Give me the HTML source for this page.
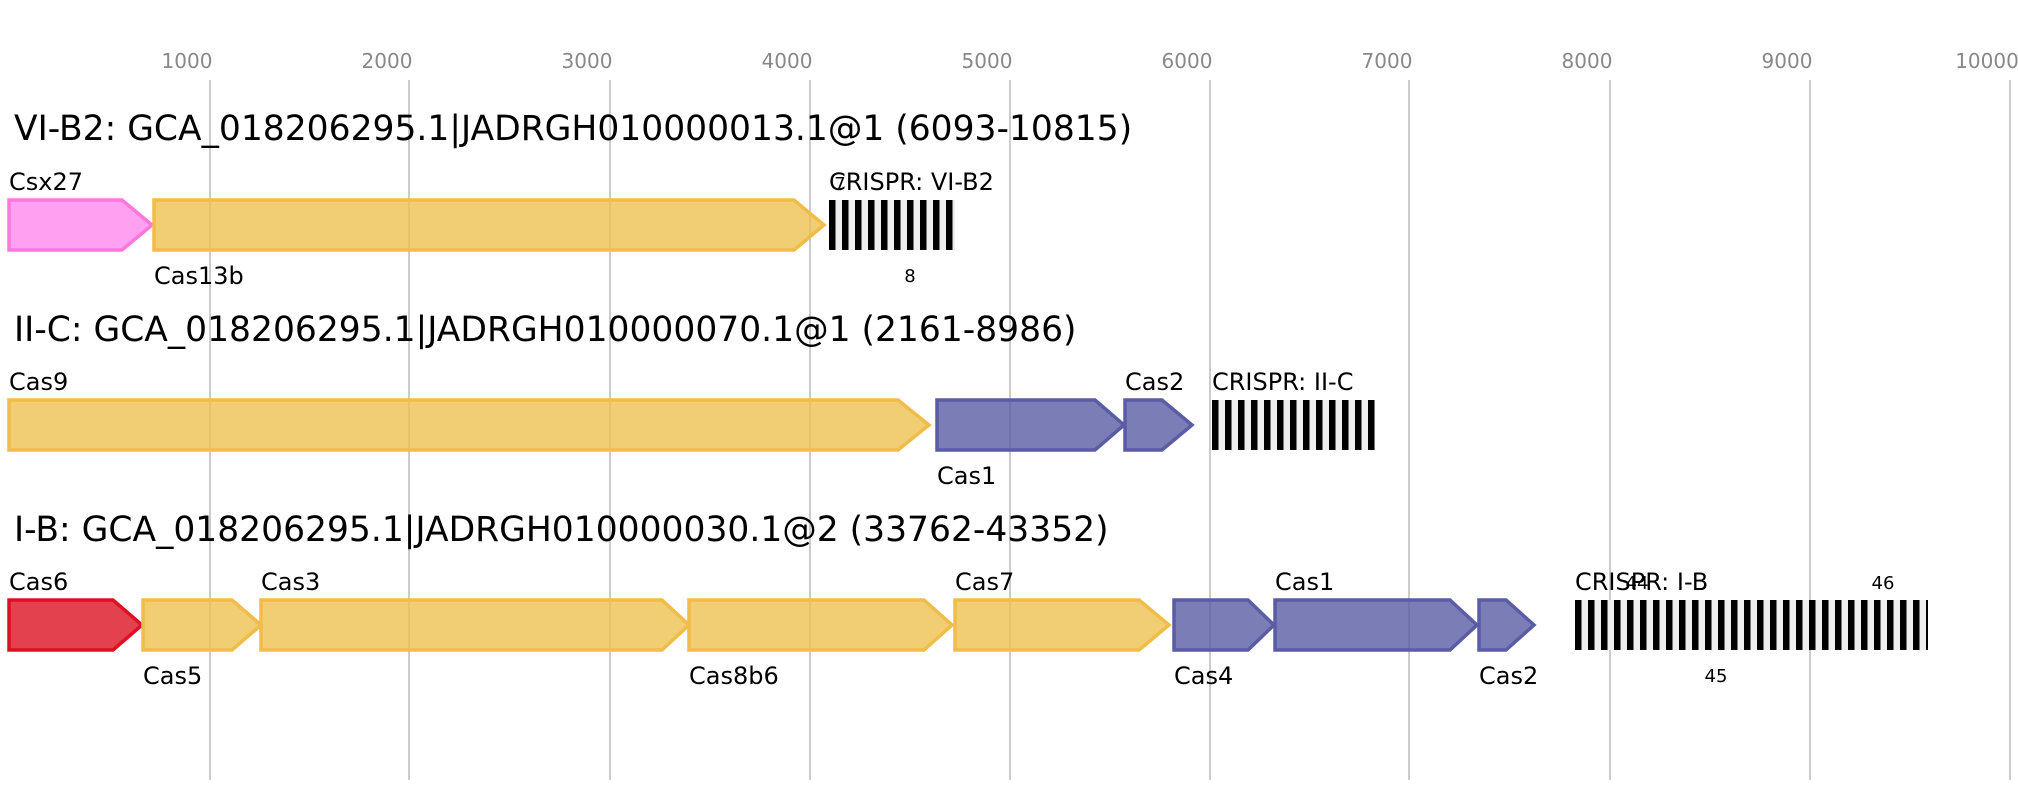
<!DOCTYPE html>
<html><head><meta charset="utf-8"><style>body{margin:0;background:#fff}svg{display:block}text{font-family:"DejaVu Sans","Liberation Sans",sans-serif}</style></head><body>
<svg width="2018" height="800" xmlns="http://www.w3.org/2000/svg">
<defs>
<pattern id="st" x="0" y="0" width="13" height="10" patternUnits="userSpaceOnUse"><rect width="13" height="10" fill="#eee"/><rect width="6.5" height="10" fill="#000"/></pattern>
<pattern id="st1" href="#st" x="829"/><pattern id="st2" href="#st" x="1212"/><pattern id="st3" href="#st" x="1575"/>
</defs>
<g stroke="#bbb" stroke-width="1.5">
<line x1="210" y1="80" x2="210" y2="780"/><line x1="409" y1="80" x2="409" y2="780"/><line x1="610" y1="80" x2="610" y2="780"/><line x1="810" y1="80" x2="810" y2="780"/><line x1="1010" y1="80" x2="1010" y2="780"/><line x1="1210" y1="80" x2="1210" y2="780"/><line x1="1409" y1="80" x2="1409" y2="780"/><line x1="1610" y1="80" x2="1610" y2="780"/><line x1="1810" y1="80" x2="1810" y2="780"/><line x1="2010" y1="80" x2="2010" y2="780"/>
</g>
<g fill="#888" font-size="20" text-anchor="middle">
<text x="187" y="68">1000</text><text x="387" y="68">2000</text><text x="587" y="68">3000</text><text x="787" y="68">4000</text><text x="987" y="68">5000</text><text x="1187" y="68">6000</text><text x="1387" y="68">7000</text><text x="1587" y="68">8000</text><text x="1787" y="68">9000</text><text x="1987" y="68">10000</text>
</g>
<g font-size="34.5" fill="#000">
<text x="14" y="140">VI-B2: GCA_018206295.1|JADRGH010000013.1@1 (6093-10815)</text>
<text x="14" y="341">II-C: GCA_018206295.1|JADRGH010000070.1@1 (2161-8986)</text>
<text x="14" y="541">I-B: GCA_018206295.1|JADRGH010000030.1@2 (33762-43352)</text>
</g>
<g stroke-width="3.5" fill-opacity="0.8">
<polygon points="9,200 122,200 152,225 122,250 9,250" fill="#ff88ee" stroke="#ff77dd"/>
<polygon points="154,200 794,200 824,225 794,250 154,250" fill="#eec050" stroke="#f0bc4a"/>
<polygon points="9,400 898,400 929,425 898,450 9,450" fill="#eec050" stroke="#f0bc4a"/>
<polygon points="937,400 1095,400 1124,425 1095,450 937,450" fill="#5a5ca5" stroke="#5a5ca5"/>
<polygon points="1125,400 1162,400 1192,425 1162,450 1125,450" fill="#5a5ca5" stroke="#5a5ca5"/>
<polygon points="9,600 113,600 142,625 113,650 9,650" fill="#dd1122" stroke="#dd1122"/>
<polygon points="143,600 232,600 261,625 232,650 143,650" fill="#eec050" stroke="#f0bc4a"/>
<polygon points="261,600 662,600 689,625 662,650 261,650" fill="#eec050" stroke="#f0bc4a"/>
<polygon points="689,600 924,600 952,625 924,650 689,650" fill="#eec050" stroke="#f0bc4a"/>
<polygon points="955,600 1139,600 1169,625 1139,650 955,650" fill="#eec050" stroke="#f0bc4a"/>
<polygon points="1174,600 1248,600 1274,625 1248,650 1174,650" fill="#5a5ca5" stroke="#5a5ca5"/>
<polygon points="1275,600 1450,600 1477,625 1450,650 1275,650" fill="#5a5ca5" stroke="#5a5ca5"/>
<polygon points="1479,600 1506,600 1534,625 1506,650 1479,650" fill="#5a5ca5" stroke="#5a5ca5"/>
</g>
<rect x="829" y="200" width="126" height="50" fill="url(#st1)"/>
<rect x="1212" y="400" width="163" height="50" fill="url(#st2)"/>
<rect x="1575" y="600" width="353" height="50" fill="url(#st3)"/>
<g font-size="24" fill="#000">
<text x="9" y="190">Csx27</text><text x="154" y="284">Cas13b</text><text x="829" y="190">CRISPR: VI-B2</text>
<text x="9" y="390">Cas9</text><text x="937" y="484">Cas1</text><text x="1125" y="390">Cas2</text><text x="1212" y="390">CRISPR: II-C</text>
<text x="9" y="590">Cas6</text><text x="143" y="684">Cas5</text><text x="261" y="590">Cas3</text><text x="689" y="684">Cas8b6</text><text x="955" y="590">Cas7</text><text x="1174" y="684">Cas4</text><text x="1275" y="590">Cas1</text><text x="1479" y="684">Cas2</text><text x="1575" y="590">CRISPR: I-B</text>
</g>
<g font-size="18" fill="#000" text-anchor="middle">
<text x="840" y="190">7</text><text x="910" y="282">8</text>
<text x="1637" y="589">44</text><text x="1883" y="589">46</text><text x="1716" y="682">45</text>
</g>
</svg>
</body></html>
